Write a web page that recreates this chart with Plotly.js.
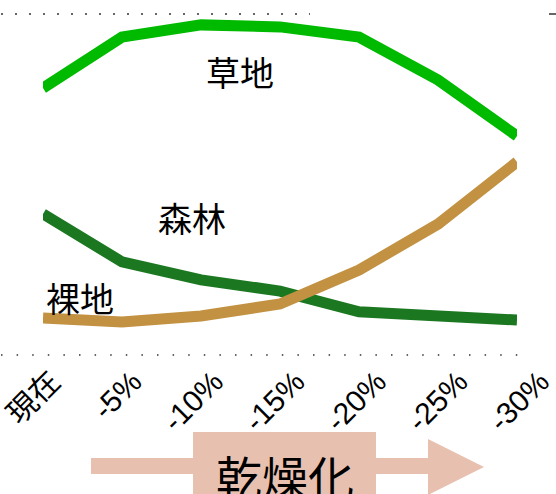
<!DOCTYPE html>
<html>
<head>
<meta charset="utf-8">
<script src="https://cdn.plot.ly/plotly-3.0.1.min.js"></script>
<style>html,body{margin:0;padding:0;background:#fff;}#chart{width:556px;height:494px;}</style>
</head>
<body>
<div id="chart"></div>
<script>
// Data
const categories = ["現在", "-5%", "-10%", "-15%", "-20%", "-25%", "-30%"];
const grassland = [78.2, 93.2, 96.8, 96.2, 93.2, 80.6, 64.1];
const forest    = [41.2, 27.1, 21.8, 18.5, 12.4, 10.9, 10.0];
const bareland  = [10.6, 9.4, 11.2, 14.7, 24.7, 38.2, 56.5];
const seriesNames = ["草地", "森林", "裸地"];
const arrowLabel = "乾燥化";

const W = 556, H = 494;
const M = {l: 0, r: 0, t: 14, b: 140};
const PW = W - M.l - M.r, PH = H - M.t - M.b;
const px = x => (x - M.l) / PW;
const py = y => (H - M.b - y) / PH;

const CJK = "Noto Sans CJK JP, sans-serif";
const LAT = "Liberation Sans, Noto Sans CJK JP, sans-serif";

const traces = [
  {x: categories, y: grassland, name: seriesNames[0], mode: "lines", line: {color: "#00BA00", width: 11}},
  {x: categories, y: forest, name: seriesNames[1], mode: "lines", line: {color: "#1B7821", width: 11}},
  {x: categories, y: bareland, name: seriesNames[2], mode: "lines", line: {color: "#C29142", width: 11}},
  // carrier for the (slightly wider spaced) category tick labels
  {x: categories, y: grassland, xaxis: "x2", yaxis: "y", mode: "none", hoverinfo: "skip", showlegend: false}
];

const layout = {
  width: W, height: H,
  margin: M,
  paper_bgcolor: "#fff", plot_bgcolor: "rgba(0,0,0,0)",
  showlegend: false,
  xaxis: {
    type: "category", domain: [px(43), px(517)], range: [0, 6], anchor: "y",
    showgrid: false, zeroline: false, showline: false, ticks: "", showticklabels: false,
    fixedrange: true
  },
  xaxis2: {
    type: "category", domain: [0, 1], range: [-0.557, 6.265], anchor: "y",
    categoryorder: "array", categoryarray: categories,
    showgrid: false, zeroline: false, showline: false, ticks: "",
    tickangle: -45, tickfont: {family: LAT, size: 30, color: "#000"},
    ticklabelshift: 6, ticklabelstandoff: 3,
    fixedrange: true
  },
  yaxis: {range: [0, 100], visible: false, fixedrange: true, anchor: "x"},
  shapes: [
    {type: "line", xref: "paper", yref: "paper", x0: px(1), x1: px(310), y0: py(14), y1: py(14),
     line: {color: "#333", width: 1.5, dash: "2px,12px"}},
    {type: "line", xref: "paper", yref: "paper", x0: px(549), x1: px(556), y0: py(14), y1: py(14),
     line: {color: "#333", width: 1.5}},
    {type: "line", xref: "paper", yref: "paper", x0: px(1), x1: px(528), y0: py(355), y1: py(355),
     line: {color: "#333", width: 1.5, dash: "1.5px,14.1px"}},
    {type: "rect", xref: "paper", yref: "paper", x0: px(91), x1: px(428), y0: py(458), y1: py(474),
     fillcolor: "#E8C0B0", line: {width: 0}},
    {type: "rect", xref: "paper", yref: "paper", x0: px(193), x1: px(376), y0: py(432), y1: py(500),
     fillcolor: "#E8C0B0", line: {width: 0}},
    {type: "path", xref: "paper", yref: "paper",
     path: `M ${px(428)} ${py(439)} L ${px(484)} ${py(467)} L ${px(428)} ${py(495)} Z`,
     fillcolor: "#E8C0B0", line: {width: 0}}
  ],
  annotations: [
    {xref: "paper", yref: "paper", x: px(240), y: py(72), text: seriesNames[0], showarrow: false,
     xanchor: "center", yanchor: "middle", font: {family: CJK, size: 34, color: "#000"}},
    {xref: "paper", yref: "paper", x: px(192), y: py(217), text: seriesNames[1], showarrow: false,
     xanchor: "center", yanchor: "middle", font: {family: CJK, size: 34, color: "#000"}},
    {xref: "paper", yref: "paper", x: px(80), y: py(297), text: seriesNames[2], showarrow: false,
     xanchor: "center", yanchor: "middle", font: {family: CJK, size: 34, color: "#000"}},
    {xref: "paper", yref: "paper", x: px(284.5), y: py(475), text: arrowLabel, showarrow: false,
     xanchor: "center", yanchor: "middle", font: {family: CJK, size: 46, color: "#000"}}
  ]
};

Plotly.newPlot("chart", traces, layout, {staticPlot: true, displayModeBar: false});
</script>
</body>
</html>
